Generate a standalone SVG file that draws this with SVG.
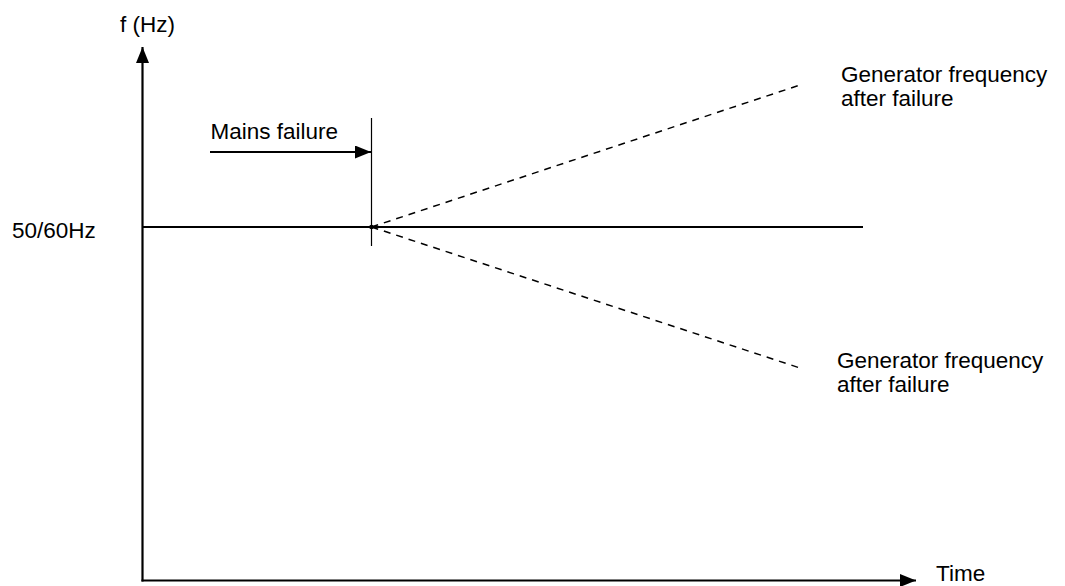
<svg xmlns="http://www.w3.org/2000/svg" width="1065" height="586" viewBox="0 0 1065 586">
<style>
text{font-family:"Liberation Sans",Arial,sans-serif;font-size:22.5px;fill:#000}
.axis{stroke:#000;stroke-width:2.2;fill:none}
.line{stroke:#000;stroke-width:2;fill:none}
.thin{stroke:#000;stroke-width:1.2;fill:none}
.dash{stroke:#000;stroke-width:1.5;fill:none;stroke-dasharray:7 6}
</style>
<defs>
<marker id="ah" viewBox="0 0 16 13" refX="16" refY="6.5" markerWidth="16" markerHeight="13" markerUnits="userSpaceOnUse" orient="auto">
<path d="M0,0 L16,6.5 L0,13 Z" fill="#000"/>
</marker>
</defs>
<g id="connectors">
<line class="axis" x1="142.5" y1="581.5" x2="142.5" y2="47" marker-end="url(#ah)"/>
<line class="axis" x1="141.5" y1="580.5" x2="916" y2="580.5" marker-end="url(#ah)"/>
<line class="line" x1="143" y1="227" x2="863" y2="227"/>
<line class="thin" x1="371.5" y1="118" x2="371.5" y2="246"/>
<line class="line" x1="210" y1="152" x2="371" y2="152" marker-end="url(#ah)"/>
<line class="dash" x1="371.5" y1="227" x2="800" y2="85"/>
<line class="dash" x1="371.5" y1="227" x2="800" y2="368"/>
<circle cx="371.5" cy="227" r="2.3" fill="#000"/>
</g>
<g id="label-fhz"><text x="120" y="32">f (Hz)</text></g>
<g id="label-mains"><text x="210.5" y="139">Mains failure</text></g>
<g id="label-gen-up">
<text x="841" y="82">Generator frequency</text>
<text x="841" y="106">after failure</text>
</g>
<g id="label-gen-down">
<text x="837" y="368">Generator frequency</text>
<text x="837" y="392">after failure</text>
</g>
<g id="label-5060"><text x="12" y="238">50/60Hz</text></g>
<g id="label-time"><text x="936" y="581">Time</text></g>
</svg>
